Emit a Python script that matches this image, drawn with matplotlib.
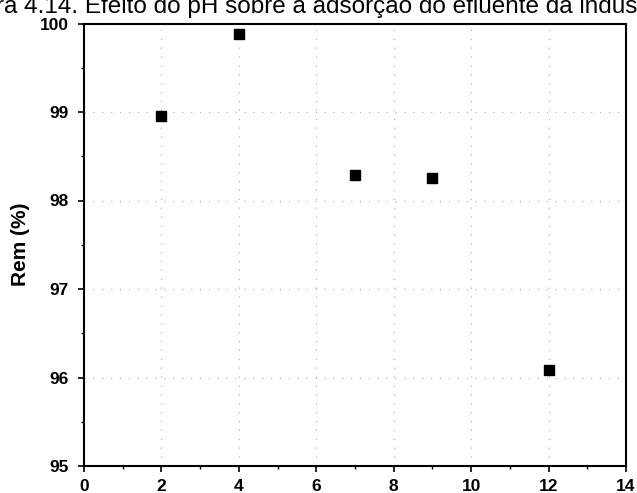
import matplotlib
matplotlib.use("Agg")
import matplotlib.pyplot as plt
from matplotlib.ticker import MultipleLocator

plt.rcParams['font.family'] = ['Liberation Sans', 'DejaVu Sans']

ph = [2, 4, 7, 9, 12]
rem = [98.95, 99.88, 98.29, 98.25, 96.09]
title_text = "ra 4.14. Efeito do pH sobre a adsorção do efluente da indústria"
xlabel_ticks = [0, 2, 4, 6, 8, 10, 12, 14]
ylabel_ticks = [95, 96, 97, 98, 99, 100]

fig = plt.figure(figsize=(6.37, 4.93), dpi=100)
ax = fig.add_axes([84/637, 1-466/493, (626-84)/637, (466-23.5)/493])

ax.plot(ph, rem, linestyle='none', marker='s', markersize=6.7,
        color='black', markeredgecolor='black', zorder=3)

ax.set_xlim(0, 14)
ax.set_ylim(95, 100)
ax.set_xticks(xlabel_ticks)
ax.set_yticks(ylabel_ticks)
ax.xaxis.set_minor_locator(MultipleLocator(1))
ax.yaxis.set_minor_locator(MultipleLocator(0.5))

ax.grid(True, which='major', linestyle=(0, (1, 7)), color='#a8a8a8', linewidth=0.8)

for s in ax.spines.values():
    s.set_linewidth(1.5)

ax.tick_params(which='major', direction='out', length=4.5, width=1.2,
               labelsize=12.5, top=False, right=False)
ax.tick_params(axis='x', which='major', pad=5.0)
ax.tick_params(axis='y', which='major', pad=6.5)
ax.tick_params(which='minor', direction='out', length=2.5, width=1.0,
               top=False, right=False)
for lab in ax.get_xticklabels() + ax.get_yticklabels():
    lab.set_fontweight('bold')

ax.set_ylabel("Rem (%)", fontsize=15, fontweight='bold', labelpad=6)
ax.yaxis.set_label_coords(-0.1, 0.5)

fig.text(-4/637, 1 - 13/493, title_text, fontsize=17.5, ha='left', va='baseline')

fig.savefig("out.png", dpi=100)
